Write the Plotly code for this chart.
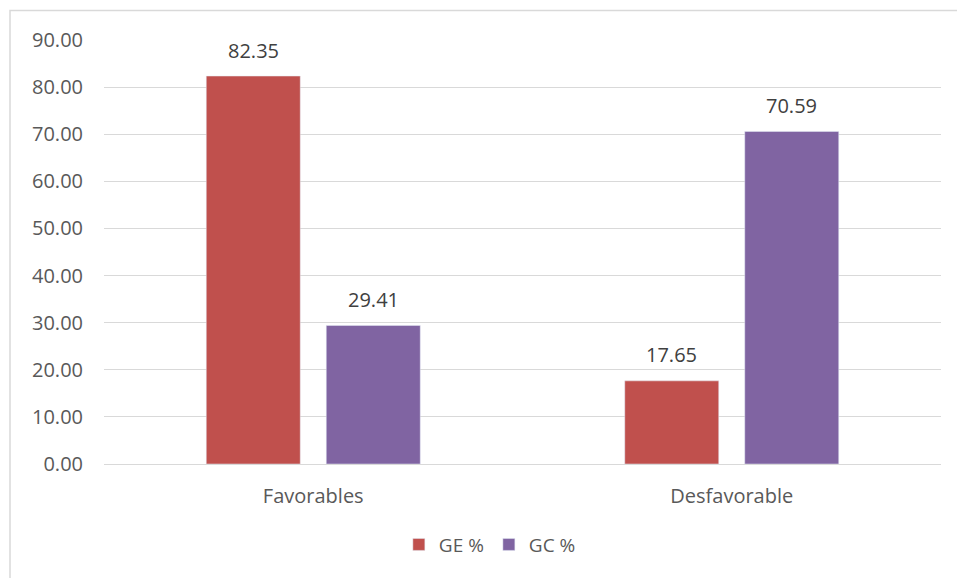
import plotly.graph_objects as go

categories = ["Favorables", "Desfavorable"]
ge_values = [82.35, 17.65]
gc_values = [29.41, 70.59]
y_ticks = [0, 10, 20, 30, 40, 50, 60, 70, 80, 90]

W, H = 957, 578
L, R, T, B = 104, 16, 40, 114
font_family = "'Open Sans', sans-serif"
FS = 20

fig = go.Figure()
fig.add_trace(go.Bar(name="GE %", x=categories, y=ge_values, marker_color="#C0504D"))
fig.add_trace(go.Bar(name="GC %", x=categories, y=gc_values, marker_color="#8064A2"))

# data labels above bars (offset within group)
for vals, shift in ((ge_values, -60), (gc_values, 60)):
    for c, v in zip(categories, vals):
        fig.add_annotation(x=c, y=v, text=f"{v:.2f}", showarrow=False,
                           xshift=shift, yshift=26, yanchor="middle",
                           font=dict(size=FS, color="#404040", family=font_family))

pw = W - L - R
ph = H - T - B
fig.add_shape(type="rect", xref="paper", yref="paper",
              x0=(10 - L) / pw, x1=(W + 5 - L) / pw,
              y0=-(H + 5 - T - ph) / ph, y1=(ph + T - 10.5) / ph,
              line=dict(color="#D9D9D9", width=1.5), layer="below")

fig.update_layout(
    width=W, height=H,
    margin=dict(l=L, r=R, t=T, b=B),
    paper_bgcolor="white", plot_bgcolor="white",
    barmode="group", bargap=0.4265, bargroupgap=0.2167,
    font=dict(family=font_family, size=FS, color="#595959"),
    showlegend=True,
    legend=dict(orientation="h", x=0.461, xanchor="center", y=-0.19, yanchor="middle",
                font=dict(size=19, color="#595959"), itemwidth=30, traceorder="normal"),
    xaxis=dict(showgrid=False, showline=True, linecolor="#D9D9D9", linewidth=1,
               ticks="", tickfont=dict(size=FS, color="#595959"), ticklabelstandoff=14),
    yaxis=dict(range=[0, 90], tickvals=y_ticks, ticktext=[f"{v:.2f}" for v in y_ticks],
               showgrid=True, gridcolor="#D9D9D9", gridwidth=1, zeroline=False,
               ticks="", tickfont=dict(size=FS, color="#595959"), ticklabelstandoff=20),
)

fig.write_html("out.html")
